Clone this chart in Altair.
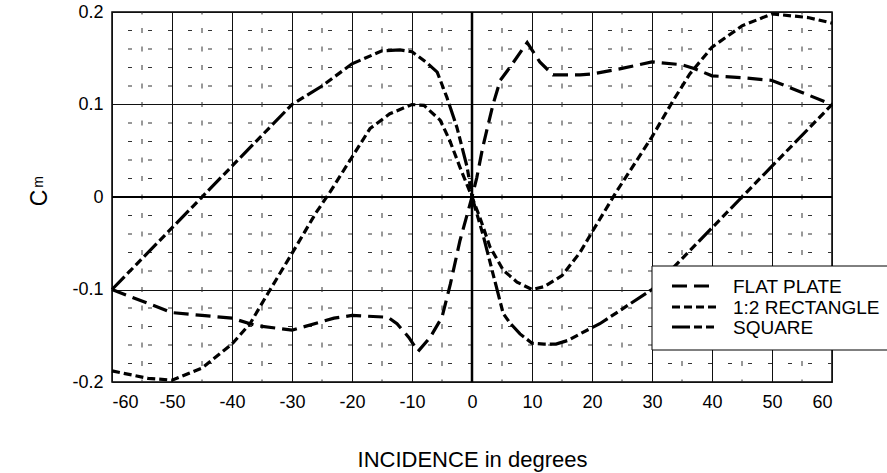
import altair as alt
import pandas as pd

# ---------------- data ----------------
flat_x = [-60, -50, -45, -40, -36, -30, -23, -20, -14, -12.5, -10.5, -9, -7, -5, -3.6, -2, 0,
          0.8, 1.8, 3.5, 4.7, 6.3, 9.2, 11.3, 13.5, 18, 20, 25, 30, 35, 37, 40, 45, 50, 55, 60]
flat_y = [-0.1, -0.125, -0.128, -0.131, -0.139, -0.144, -0.131, -0.128, -0.130, -0.137, -0.152, -0.167, -0.152, -0.130, -0.094, -0.047, 0.0,
          0.021, 0.054, 0.1, 0.126, 0.14, 0.167, 0.146, 0.132, 0.132, 0.133, 0.139, 0.146, 0.143, 0.139, 0.131, 0.129, 0.126, 0.113, 0.1]

rect_x = [-60, -54, -50, -45, -40, -37, -34, -30, -26, -23.7, -20.3, -17, -13.7, -10, -8, -5.3, -3.7, -2, 0,
          1.3, 3, 5.2, 7.5, 10, 12, 15, 18, 20, 24, 30, 33.5, 36.3, 40, 45, 50, 56, 60]
rect_y = [-0.188, -0.196, -0.198, -0.185, -0.159, -0.137, -0.104, -0.061, -0.017, 0.005, 0.04, 0.074, 0.09, 0.1, 0.099, 0.083, 0.061, 0.032, 0.0,
          -0.022, -0.054, -0.079, -0.092, -0.1, -0.097, -0.085, -0.06, -0.038, 0.005, 0.065, 0.104, 0.133, 0.162, 0.185, 0.198, 0.194, 0.188]

square_x = [-60, -45, -30, -25, -20, -15, -12, -10, -7.5, -5.8, -4.2, -2.5, -0.8, 0,
            1.8, 3.5, 5.2, 6.3, 8, 10, 12, 14, 16, 18, 21.3, 30, 45, 60]
square_y = [-0.1, 0.0, 0.1, 0.12, 0.144, 0.158, 0.159, 0.157, 0.145, 0.135, 0.108, 0.075, 0.032, 0.0,
            -0.04, -0.083, -0.126, -0.136, -0.148, -0.158, -0.159, -0.159, -0.155, -0.148, -0.137, -0.1, 0.0, 0.1]

series_names = ["FLAT PLATE", "1:2 RECTANGLE", "SQUARE"]
x_ticks = [-60, -50, -40, -30, -20, -10, 0, 10, 20, 30, 40, 50, 60]
y_ticks = [-0.2, -0.1, 0.0, 0.1, 0.2]
minor_x = [-55, -45, -35, -25, -15, -5, 5, 15, 25, 35, 45, 55]
minor_y = [-0.18, -0.16, -0.14, -0.12, -0.08, -0.06, -0.04, -0.02,
           0.02, 0.04, 0.06, 0.08, 0.12, 0.14, 0.16, 0.18]

# ---------------- styling ----------------
FONT = "Liberation Sans"
dash_styles = {"FLAT PLATE": [15, 7], "1:2 RECTANGLE": [8, 4], "SQUARE": [18, 4, 8, 4, 8, 4]}

x_scale = alt.Scale(domain=[-60, 60], nice=False, zero=False)
y_scale = alt.Scale(domain=[-0.2, 0.2], nice=False, zero=False)

x_axis = alt.Axis(values=x_ticks, grid=True, gridColor="#111", gridWidth=1, ticks=False, domain=False,
                  labelExpr="datum.value < 0 ? '-' + abs(datum.value) : '' + datum.value",
                  labelFont=FONT, labelFontSize=18, labelColor="black", labelPadding=11,
                  title="INCIDENCE in degrees", titleFont=FONT, titleFontSize=22,
                  titleFontWeight="normal", titleColor="black", titlePadding=38)
y_axis = alt.Axis(values=y_ticks, grid=True, gridColor="#111", gridWidth=1, ticks=False, domain=False,
                  labelExpr="abs(datum.value) < 1e-9 ? '0' : (datum.value < 0 ? '-' : '') + format(abs(datum.value), '.1f')",
                  labelFont=FONT, labelFontSize=18, labelColor="black", labelPadding=9, title="")

X = alt.X("x:Q", scale=x_scale, axis=x_axis)
Y = alt.Y("y:Q", scale=y_scale, axis=y_axis)

# minor dashed grid
minor_h = alt.Chart(pd.DataFrame({"y": minor_y})).mark_rule(
    color="#333", strokeWidth=1, strokeDash=[4, 16]).encode(y=Y)
minor_v = alt.Chart(pd.DataFrame({"x": minor_x})).mark_rule(
    color="#333", strokeWidth=1, strokeDash=[5, 13.5], strokeDashOffset=2.5).encode(x=X)

# zero lines (thicker)
zero_v = alt.Chart(pd.DataFrame({"x": [0]})).mark_rule(color="black", strokeWidth=2.5).encode(x=X)
zero_h = alt.Chart(pd.DataFrame({"y": [0]})).mark_rule(color="black", strokeWidth=2).encode(y=Y)

def series_layer(xs, ys, name):
    df = pd.DataFrame({"x": xs, "y": ys, "series": name})
    return alt.Chart(df).mark_line(color="black", strokeWidth=3.2, strokeDash=dash_styles[name],
                                   strokeCap="butt").encode(x=X, y=Y, order=alt.Order("x:Q"))

flat = series_layer(flat_x, flat_y, "FLAT PLATE")
rect = series_layer(rect_x, rect_y, "1:2 RECTANGLE")
square = series_layer(square_x, square_y, "SQUARE")

one = pd.DataFrame({"a": [0]})

# legend (manual)
leg_box = alt.Chart(one).mark_rect(fill="white", stroke="black", strokeWidth=1).encode(
    x=alt.value(540), x2=alt.value(800), y=alt.value(254), y2=alt.value(338))
leg_layers = [leg_box]
leg_rows = [274, 295, 315]
leg_ends = [600, 606, 606]
for name, yy, xe in zip(series_names, leg_rows, leg_ends):
    leg_layers.append(alt.Chart(one).mark_rule(color="black", strokeWidth=3, strokeDash=dash_styles[name],
                                               strokeCap="butt").encode(
        x=alt.value(560), x2=alt.value(xe), y=alt.value(yy)))
    leg_layers.append(alt.Chart(pd.DataFrame({"t": [name]})).mark_text(
        font=FONT, fontSize=19, align="left", baseline="middle", color="black").encode(
        text="t:N", x=alt.value(621), y=alt.value(yy + 1)))

# y title C_m
c_text = alt.Chart(pd.DataFrame({"t": ["C"]})).mark_text(
    font=FONT, fontSize=23, angle=270, align="center", baseline="middle", color="black").encode(
    text="t:N", x=alt.value(-72), y=alt.value(186))
m_text = alt.Chart(pd.DataFrame({"t": ["m"]})).mark_text(
    font=FONT, fontSize=14, angle=270, align="center", baseline="middle", color="black").encode(
    text="t:N", x=alt.value(-73), y=alt.value(170))

chart = alt.layer(minor_h, minor_v, zero_v, zero_h, flat, rect, square, *leg_layers, c_text, m_text).properties(
    width=720, height=370,
    autosize=alt.AutoSizeParams(type="none"),
    padding={"left": 112, "top": 12, "right": 55, "bottom": 91},
    background="white",
).configure_view(stroke="black", strokeWidth=1.5)

chart.save("out.html", embed_options={"renderer": "svg", "actions": False})
